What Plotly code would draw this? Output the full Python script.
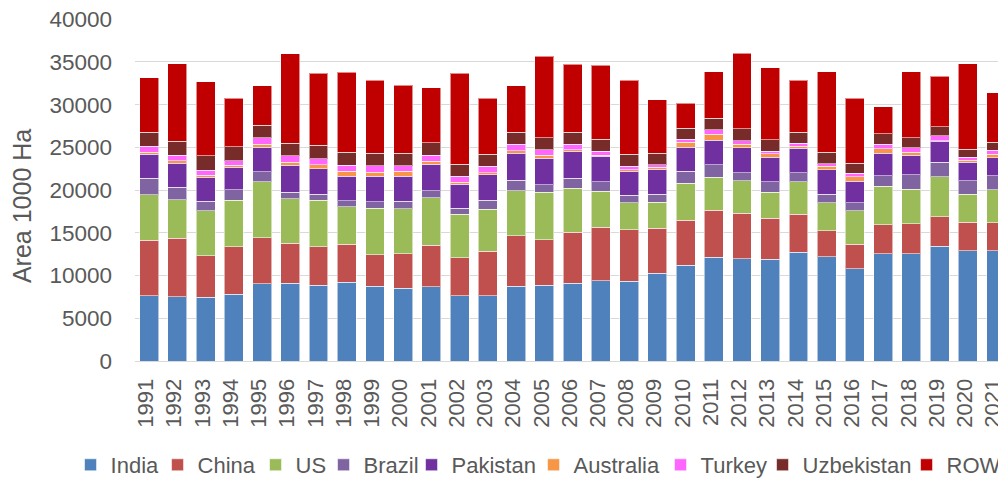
import plotly.graph_objects as go

years = [str(y) for y in range(1991, 2022)]

india = [7620, 7500, 7460, 7810, 9020, 9100, 8870, 9220, 8750, 8520, 8670, 7660, 7620, 8750, 8870, 9100,
         9380, 9340, 10270, 11210, 12150, 11950, 11910, 12730, 12230, 10820, 12540, 12540, 13440, 12930, 12930]
china = [6520, 6840, 4880, 5590, 5430, 4690, 4490, 4450, 3710, 4060, 4850, 4450, 5230, 5900, 5350, 5980,
         6250, 6050, 5280, 5240, 5510, 5350, 4770, 4420, 3040, 2850, 3400, 3510, 3470, 3320, 3280]
us = [5310, 4530, 5240, 5390, 6530, 5230, 5430, 4380, 5430, 5230, 5580, 5040, 4920, 5270, 5550, 5150,
      4250, 3130, 3040, 4370, 3860, 3790, 3090, 3830, 3280, 3910, 4490, 4070, 4650, 3280, 3830]
brazil = [1950, 1480, 1090, 1250, 1170, 750, 740, 700, 740, 900, 820, 740, 1060, 1250, 860, 1180,
          1100, 860, 940, 1410, 1450, 940, 1210, 1050, 980, 940, 1250, 1680, 1720, 1560, 1640]
pakistan = [2810, 2810, 2810, 2620, 2890, 3120, 2970, 2890, 3010, 2930, 3090, 2770, 2970, 3130, 3120, 3160,
            2970, 2850, 2930, 2810, 2890, 2930, 2850, 2850, 2850, 2500, 2660, 2260, 2420, 2150, 2110]
australia = [240, 280, 280, 230, 310, 350, 470, 550, 470, 550, 350, 280, 230, 310, 310, 160,
             110, 150, 200, 550, 700, 430, 430, 240, 390, 540, 500, 390, 80, 240, 390]
turkey = [660, 660, 540, 550, 780, 780, 700, 740, 740, 660, 700, 660, 740, 740, 670, 620,
          510, 390, 310, 350, 510, 390, 310, 390, 320, 430, 510, 510, 590, 390, 470]
uzbekistan = [1680, 1640, 1720, 1640, 1490, 1490, 1600, 1520, 1490, 1450, 1490, 1450, 1410, 1410, 1400, 1450,
              1410, 1450, 1330, 1330, 1370, 1410, 1330, 1290, 1360, 1170, 1250, 1170, 1050, 930, 980]
row = [6370, 9030, 8640, 5660, 4610, 10470, 8440, 9340, 8510, 8000, 6440, 10660, 6560, 5470, 9530, 7930,
       8630, 8630, 6290, 2890, 5390, 8860, 8440, 6050, 9420, 7580, 3170, 7700, 5900, 9970, 5780]

series = [
    ("India", india, "#4F81BD"),
    ("China", china, "#C0504D"),
    ("US", us, "#9BBB59"),
    ("Brazil", brazil, "#8064A2"),
    ("Pakistan", pakistan, "#7030A0"),
    ("Australia", australia, "#F79646"),
    ("Turkey", turkey, "#FF66FF"),
    ("Uzbekistan", uzbekistan, "#772C2A"),
    ("ROW", row, "#C00000"),
]
# legend entry widths (px), to space the entries like the original
legend_w = [42, 53, 23, 43, 77, 82, 57, 99, 60]

fig = go.Figure()
for (name, vals, color), lw in zip(series, legend_w):
    fig.add_trace(go.Bar(
        x=years, y=vals, name=name, legendwidth=lw,
        marker=dict(color=color, line=dict(color="rgba(255,255,255,0.55)", width=1)),
    ))

font_col = "#595959"
# page body has an 8px margin, so the figure is 8px smaller each way
fig.update_layout(
    barmode="stack",
    bargap=0.33,
    width=998, height=470,
    margin=dict(l=127, r=0, t=11, b=117, autoexpand=False),
    paper_bgcolor="white",
    plot_bgcolor="white",
    font=dict(family="Liberation Sans, Arial, sans-serif", size=22, color=font_col),
    legend=dict(
        orientation="h", traceorder="normal",
        x=-0.074, xanchor="left", y=-0.304, yanchor="middle",
        font=dict(size=22, color=font_col),
        itemwidth=30,
    ),
    xaxis=dict(
        range=[-0.5, 30.35],
        tickangle=-90,
        showgrid=False,
        showline=True, linecolor="#d9d9d9", linewidth=1,
        ticklabelstandoff=8,
        ticklabelshift=-3,
        tickfont=dict(size=22, color=font_col),
    ),
    yaxis=dict(
        range=[0, 40030],
        tickvals=list(range(0, 40001, 5000)),
        tickformat="d",
        showgrid=True, gridcolor="#d9d9d9", gridwidth=1,
        zeroline=False,
        ticklabelstandoff=22,
        ticklabeloverflow="allow",
        tickfont=dict(size=22.5, color=font_col),
    ),
    annotations=[dict(
        text="Area 1000 Ha", textangle=-90,
        xref="paper", yref="paper", x=0, y=0.453,
        xanchor="center", yanchor="middle", xshift=-113, showarrow=False,
        font=dict(size=25, color=font_col),
    )],
)

fig.write_html("out.html")
